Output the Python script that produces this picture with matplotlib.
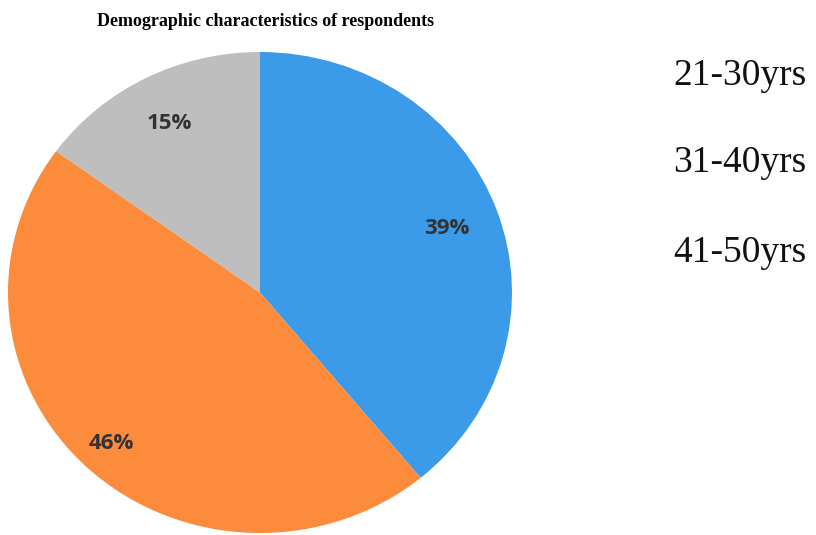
import matplotlib.pyplot as plt

groups = ["21-30yrs", "31-40yrs", "41-50yrs"]
shares = [39, 46, 15]
colors = ["#3C9BE8", "#FD8B3C", "#BEBEBE"]

W, H = 816, 535
fig = plt.figure(figsize=(W / 100, H / 100), dpi=100)

# pie box in pixels: x 8..512, y 52..533 (image is a bit stretched)
ax = fig.add_axes([8 / W, (H - 533) / H, 504 / W, 481 / H])
wedges, texts, autotexts = ax.pie(
    shares, colors=colors, startangle=90, counterclock=False,
    autopct="%d%%", pctdistance=0.79,
    wedgeprops=dict(linewidth=0),
    textprops=dict(fontsize=16, fontweight="bold", color="#333333", family="Open Sans"),
)
ax.set_aspect("auto")
ax.set_xlim(-1, 1)
ax.set_ylim(-1, 1)

# the 46% label sits a little further out in the original
x, y = autotexts[1].get_position()
autotexts[1].set_position((x * 1.09, y * 1.09))

fig.text(266 / W, 1 - 22 / H, "Demographic characteristics of respondents",
         ha="center", va="center", fontsize=13, fontweight="bold",
         family="Liberation Serif")

ys = [76, 163, 253]
for g, y in zip(groups, ys):
    fig.text(673 / W, 1 - y / H, g, ha="left", va="center",
             fontsize=27, family="Liberation Serif", color="#111111")

fig.savefig("out.png", dpi=100)
